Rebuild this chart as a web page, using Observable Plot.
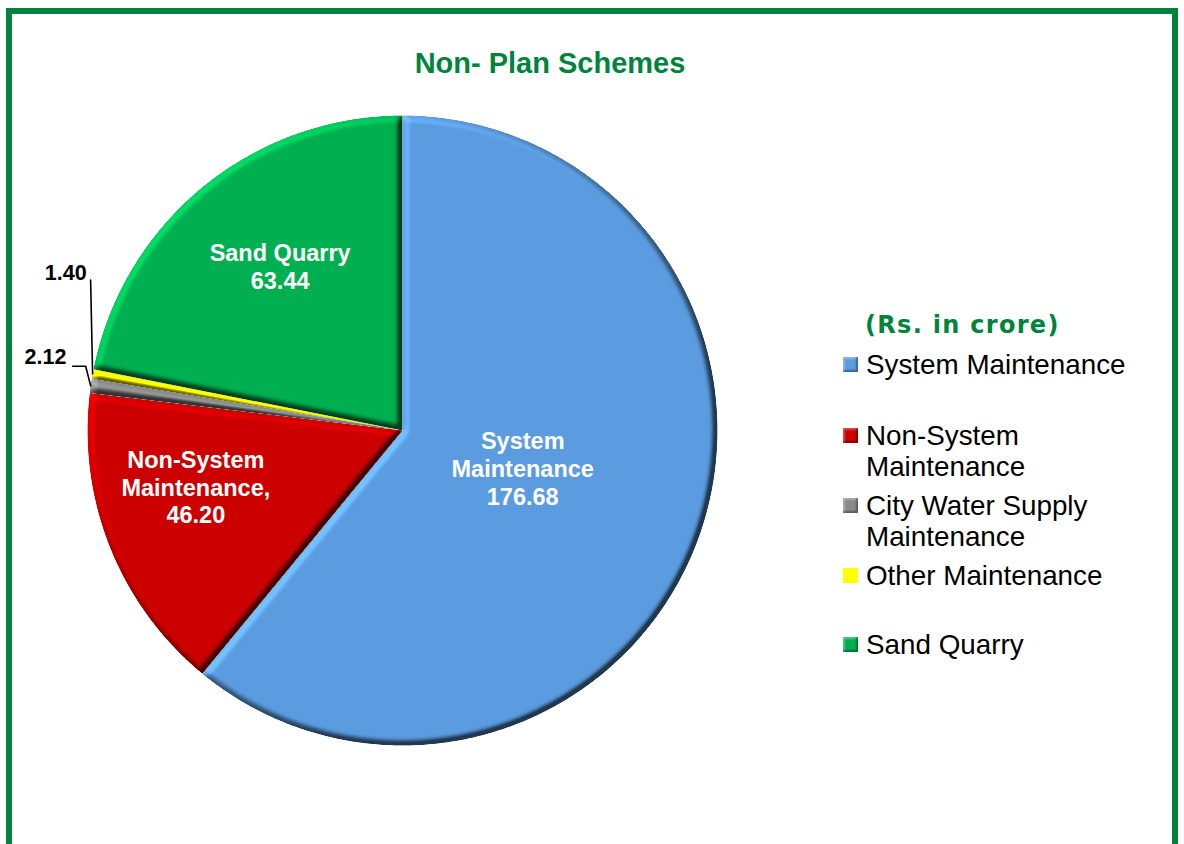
<!DOCTYPE html>
<html>
<head>
<meta charset="utf-8">
<script src="https://cdn.jsdelivr.net/npm/d3@7"></script>
<script src="https://cdn.jsdelivr.net/npm/@observablehq/plot@0.6"></script>
<style>
  html, body { margin: 0; padding: 0; background: #fff; }
  body { width: 1184px; height: 844px; overflow: hidden; position: relative; font-family: "Liberation Sans", Arial, sans-serif; }
  #frame { position: absolute; left: 6px; top: 8px; width: 1160px; height: 900px; border: 6px solid #00843D; box-sizing: content-box; }
  #title { position: absolute; left: 300px; width: 500px; top: 47px; line-height: 32px; text-align: center; font-size: 29px; font-weight: bold; color: #00843D; }
  #chart { position: absolute; left: 12px; top: 100px; }
  #legend-title { position: absolute; left: 865px; top: 310px; line-height: 30px; font-family: "DejaVu Sans", Verdana, sans-serif; font-weight: bold; font-size: 24px; letter-spacing: 1.3px; color: #00843D; white-space: nowrap; }
  .lg-item { position: absolute; left: 843px; font-size: 27.8px; line-height: 31px; color: #000; white-space: nowrap; }
  .lg-swatch { position: absolute; left: 0; top: 8px; width: 15px; height: 15px; }
  .lg-text { position: absolute; left: 23px; top: 0; }
</style>
</head>
<body>
<svg width="0" height="0" style="position:absolute">
  <defs>
    <filter id="bevel" x="-10%" y="-10%" width="120%" height="120%" color-interpolation-filters="sRGB">
      <feGaussianBlur in="SourceAlpha" stdDeviation="3" result="blur"/>
      <feDiffuseLighting in="blur" surfaceScale="8" diffuseConstant="1" lighting-color="#ffffff" result="light">
        <feDistantLight azimuth="225" elevation="45"/>
      </feDiffuseLighting>
      <feComposite in="SourceGraphic" in2="light" operator="arithmetic" k1="0.9" k2="0.364" k3="0" k4="0" result="lit"/>
      <feComposite in="lit" in2="SourceAlpha" operator="in"/>
    </filter>
  </defs>
</svg>
<div id="frame"></div>
<div id="title">Non- Plan Schemes</div>
<div id="chart"></div>
<div id="legend-title">(Rs. in crore)</div>
<div id="legend"></div>
<script>
// ---------- data ----------
const categories = ["System Maintenance", "Non-System Maintenance", "City Water Supply Maintenance", "Other Maintenance", "Sand Quarry"];
const values = [176.68, 46.20, 2.12, 1.40, 63.44];
const sliceLabels = ["System\nMaintenance\n176.68", "Non-System\nMaintenance,\n46.20", "2.12", "1.40", "Sand Quarry\n63.44"];
const legendLabels = [["System Maintenance"], ["Non-System", "Maintenance"], ["City Water Supply", "Maintenance"], ["Other Maintenance"], ["Sand Quarry"]];
const colors = ["#5B9BDF", "#CC0000", "#8A8A8A", "#FFFF00", "#00B050"];

// ---------- layout ----------
const W = 800, H = 680;
const cx = 390, cy = 330, R = 315;
// label placement relative to each slice's mid-angle (degrees) and radius fraction
const labelLayout = [
  {dAngle: -2.3, r: 0.40, inside: true},
  {dAngle: 6.6, r: 0.68, inside: true},
  {dAngle: 3.4, r: 1.157, inside: false},
  {dAngle: 14.7, r: 1.18, inside: false},
  {dAngle: 2.7, r: 0.65, inside: true}
];
// leader line bends (pixel offsets from slice rim point)
const leaderLayout = [null, null, [[-5, -19.6], [-18, -19.6]], [[-2, -94]], null];
const legendTops = [349, 420, 490, 560, 629];

// ---------- geometry via d3.pie ----------
const arcs = d3.pie().sort(null).value(d => d)(values);
const pt = (a, r) => ({x: cx + r * Math.sin(a), y: cy - r * Math.cos(a)});

const slicePts = [];
arcs.forEach((a, i) => {
  const name = categories[i];
  slicePts.push({name, ...pt(0, 0)});
  const n = Math.max(2, Math.ceil((a.endAngle - a.startAngle) / (Math.PI / 360)));
  for (let k = 0; k <= n; k++) {
    const ang = a.startAngle + (a.endAngle - a.startAngle) * k / n;
    slicePts.push({name, ...pt(ang, R)});
  }
  slicePts.push({name, ...pt(0, 0)});
});

const labelRows = arcs.map((a, i) => {
  const mid = (a.startAngle + a.endAngle) / 2;
  const L = labelLayout[i];
  const p = pt(mid + L.dAngle * Math.PI / 180, R * L.r);
  return {text: sliceLabels[i], inside: L.inside, ...p};
});

const leaderPts = [];
arcs.forEach((a, i) => {
  if (!leaderLayout[i]) return;
  const mid = (a.startAngle + a.endAngle) / 2;
  const s = pt(mid, R);
  leaderPts.push({id: i, x: s.x, y: s.y});
  leaderLayout[i].forEach(([dx, dy]) => leaderPts.push({id: i, x: s.x + dx, y: s.y + dy}));
});

const chart = Plot.plot({
  width: W,
  height: H,
  margin: 0,
  x: {type: "identity", axis: null},
  y: {type: "identity", axis: null},
  color: {domain: categories, range: colors},
  marks: [
    Plot.line(slicePts, {x: "x", y: "y", z: "name", fill: "name", stroke: "none", curve: "linear"}),
    Plot.line(leaderPts, {x: "x", y: "y", z: "id", stroke: "#000", strokeWidth: 1.6}),
    Plot.text(labelRows.filter(d => d.inside), {x: "x", y: "y", text: "text", fill: "#fff", fontSize: 23.5, fontWeight: "bold", lineHeight: 1.18, fontFamily: "Liberation Sans, Arial, sans-serif"}),
    Plot.text(labelRows.filter(d => !d.inside), {x: "x", y: "y", text: "text", fill: "#000", fontSize: 21.5, fontWeight: "bold", letterSpacing: -0.8, fontFamily: "Liberation Sans, Arial, sans-serif"})
  ]
});
document.getElementById("chart").appendChild(chart);
// bevel effect on pie slices
const sliceGroup = chart.querySelector('g[aria-label="line"]');
if (sliceGroup) sliceGroup.querySelectorAll("path").forEach(p => p.setAttribute("filter", "url(#bevel)"));

// ---------- legend ----------
const legend = document.getElementById("legend");
categories.forEach((c, i) => {
  const item = document.createElement("div");
  item.className = "lg-item";
  item.style.top = legendTops[i] + "px";
  const sw = document.createElement("div");
  sw.className = "lg-swatch";
  sw.style.background = colors[i];
  if (i !== 3) sw.style.boxShadow = "inset -2px -2px 2px rgba(0,0,0,0.35), inset 2px 2px 2px rgba(255,255,255,0.3)";
  const tx = document.createElement("div");
  tx.className = "lg-text";
  tx.innerHTML = legendLabels[i].join("<br>");
  item.appendChild(sw);
  item.appendChild(tx);
  legend.appendChild(item);
});
</script>
</body>
</html>
